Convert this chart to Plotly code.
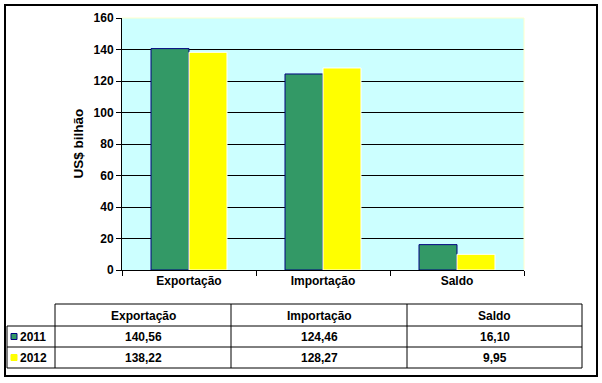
import plotly.graph_objects as go

categories = ["Exportação", "Importação", "Saldo"]
years = ["2011", "2012"]
values_2011 = [140.56, 124.46, 16.10]
values_2012 = [138.22, 128.27, 9.95]
y_ticks = [0, 20, 40, 60, 80, 100, 120, 140, 160]
y_title = "US$ bilhão"

W, H = 602, 383
L, R, T, B = 122, 524, 18, 270  # plot area in pixels
FONT = "Arial, Liberation Sans, sans-serif"
GREEN = "#339966"
YELLOW = "#FFFF00"
NAVY = "#000080"


def px(x):
    return (x - L) / (R - L)


def py(y):
    return (B - y) / (B - T)


def fmt(v):
    return f"{v:.2f}".replace(".", ",")


fig = go.Figure()
fig.add_trace(go.Bar(name=years[0], x=categories, y=values_2011,
                     marker=dict(color=GREEN, line=dict(color=NAVY, width=1))))
fig.add_trace(go.Bar(name=years[1], x=categories, y=values_2012,
                     marker=dict(color=YELLOW, line=dict(color="#FFFFFF", width=1))))

shapes = []
annotations = []

# pale top / right border of plot area
shapes.append(dict(type="line", xref="paper", yref="paper", x0=0, x1=1, y0=1, y1=1,
                   line=dict(color="#FFFFCC", width=1), layer="above"))
shapes.append(dict(type="line", xref="paper", yref="paper", x0=1, x1=1, y0=0.002, y1=1,
                   line=dict(color="#FFFFCC", width=1), layer="above"))

# outer chart border
shapes.append(dict(type="rect", xref="paper", yref="paper", x0=px(5), x1=px(597),
                   y0=py(376), y1=py(5), line=dict(color="black", width=2), layer="above"))

# data table grid
col_x = [55, 231, 407, 582]
row_y = [304, 326, 347, 368]
ln = dict(color="black", width=1)


def hline(x0, x1, y):
    shapes.append(dict(type="line", xref="paper", yref="paper", x0=px(x0), x1=px(x1),
                       y0=py(y), y1=py(y), line=ln, layer="above"))


def vline(x, y0, y1):
    shapes.append(dict(type="line", xref="paper", yref="paper", x0=px(x), x1=px(x),
                       y0=py(y0), y1=py(y1), line=ln, layer="above"))


hline(55, 582, 304)
for yy in row_y[1:]:
    hline(7, 582, yy)
for xx in col_x:
    vline(xx, 304, 368)
vline(7, 326, 368)

cell_font = dict(family=FONT, size=12, color="black", weight="bold")
for i, cat in enumerate(categories):
    cx = (col_x[i] + col_x[i + 1]) / 2
    annotations.append(dict(text=cat, xref="paper", yref="paper", x=px(cx), y=py(315.5),
                            showarrow=False, font=cell_font, xanchor="center", yanchor="middle"))
    for r, vals in enumerate([values_2011, values_2012]):
        cy = (row_y[r + 1] + row_y[r + 2]) / 2
        annotations.append(dict(text=fmt(vals[i]), xref="paper", yref="paper", x=px(cx),
                                y=py(cy), showarrow=False, font=cell_font,
                                xanchor="center", yanchor="middle"))

# legend keys + year labels
key_colors = [(GREEN, NAVY), (YELLOW, YELLOW)]
for r, yr in enumerate(years):
    cy = (row_y[r + 1] + row_y[r + 2]) / 2
    fc, lc = key_colors[r]
    shapes.append(dict(type="rect", xref="paper", yref="paper", x0=px(11), x1=px(17),
                       y0=py(cy + 3), y1=py(cy - 3), fillcolor=fc,
                       line=dict(color=lc, width=1), layer="above"))
    annotations.append(dict(text=yr, xref="paper", yref="paper", x=px(18.5), y=py(cy),
                            showarrow=False, font=cell_font, xanchor="left", yanchor="middle"))

# y-axis title
annotations.append(dict(text=y_title, xref="paper", yref="paper", x=px(77.5), y=0.5,
                        textangle=-90, showarrow=False,
                        font=dict(family=FONT, size=13.5, color="black", weight="bold"),
                        xanchor="center", yanchor="middle"))

fig.update_layout(
    width=W, height=H, autosize=False,
    margin=dict(l=L, r=W - R, t=T, b=H - B, pad=0),
    paper_bgcolor="white", plot_bgcolor="#CCFFFF",
    barmode="group", bargap=0.433, bargroupgap=0,
    showlegend=False,
    shapes=shapes, annotations=annotations,
    font=dict(family=FONT, size=12, color="black"),
)
fig.update_xaxes(
    type="category", tickson="boundaries", ticks="outside", ticklen=5, tickwidth=1,
    tickcolor="black", showline=True, linecolor="black", linewidth=1,
    showgrid=False, zeroline=False,
    tickfont=dict(family=FONT, size=12, color="black", weight="bold"),
)
fig.update_yaxes(
    range=[0, 160], tickvals=y_ticks, ticks="outside", ticklen=5, tickwidth=1,
    tickcolor="black", showline=True, linecolor="black", linewidth=1,
    showgrid=True, gridcolor="black", gridwidth=1, zeroline=False,
    tickfont=dict(family=FONT, size=12, color="black", weight="bold"),
)

fig.write_html(
    "out.html",
    config={"displayModeBar": False},
    post_script="document.body.style.margin='0px';document.body.style.overflow='hidden';",
)
